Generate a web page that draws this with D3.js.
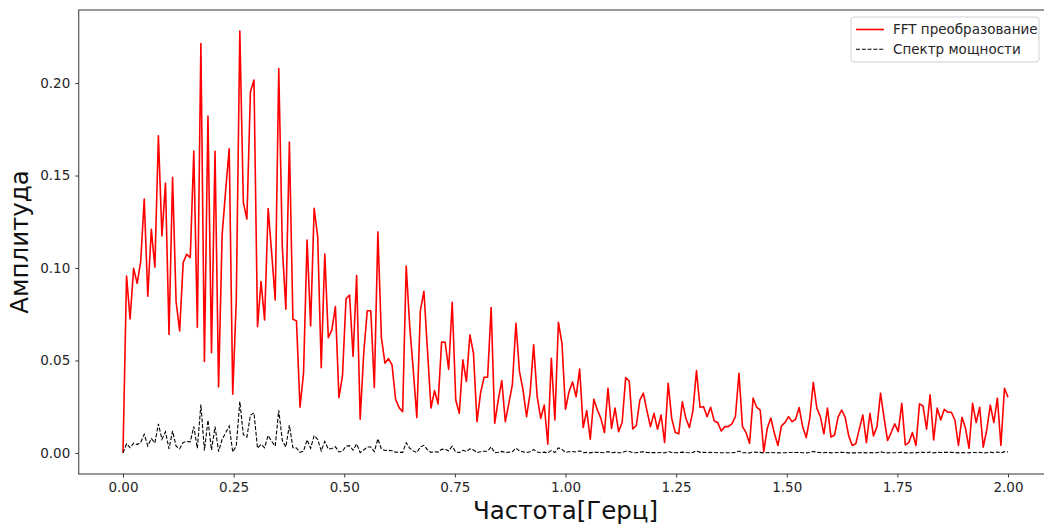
<!DOCTYPE html>
<html><head><meta charset="utf-8">
<script src="https://cdn.jsdelivr.net/npm/d3@7"></script>
<style>body{margin:0;background:#fff}svg{display:block}text{font-family:"DejaVu Sans",sans-serif}</style>
</head><body><svg id="c" width="1044" height="524"></svg>
<script>
// frequency sampling (Hz): 251 bins from 0 to 2.0
const freqStep = 0.008;
const nBins = 251;
// FFT amplitude (red)
const fftAmp = [
0.000,0.0957,0.0724,0.0998,0.0917,0.1034,0.1373,0.0847,0.1209,0.1004,
0.1715,0.1173,0.1459,0.0641,0.149,0.0818,0.066,0.1029,0.1074,0.1056,
0.1632,0.0679,0.2214,0.0494,0.1822,0.0542,0.1631,0.0357,0.1178,0.142,
0.1645,0.0317,0.0827,0.2281,0.1353,0.1265,0.1953,0.2016,0.0683,0.0926,
0.0719,0.1322,0.108,0.0827,0.2079,0.1115,0.0777,0.1681,0.0723,0.0714,
0.0247,0.0431,0.1151,0.0686,0.1323,0.1169,0.0461,0.1076,0.0623,0.0665,
0.0791,0.0299,0.0416,0.0832,0.0854,0.0521,0.0959,0.0182,0.0539,0.0769,
0.0769,0.0353,0.1195,0.0623,0.0485,0.051,0.0476,0.029,0.0245,0.0223,
0.1011,0.0683,0.0449,0.0191,0.0769,0.0874,0.0557,0.0243,0.0337,0.0265,
0.06,0.0598,0.0452,0.0815,0.0286,0.0214,0.0503,0.0386,0.0638,0.0539,
0.0169,0.0323,0.0409,0.041,0.0786,0.016,0.0286,0.0391,0.0169,0.0268,
0.0371,0.0701,0.044,0.0341,0.0196,0.0323,0.0584,0.0304,0.0187,0.0259,
0.0047,0.0512,0.0178,0.0706,0.0593,0.0236,0.0331,0.0384,0.0304,0.0454,
0.0137,0.0229,0.0074,0.029,0.0232,0.0187,0.011,0.035,0.0133,0.0242,
0.0115,0.0164,0.0407,0.0389,0.013,0.0148,0.0286,0.0323,0.0229,0.0142,
0.0214,0.0128,0.0205,0.0056,0.0377,0.0187,0.011,0.0103,0.0277,0.0187,
0.0137,0.0229,0.0445,0.0247,0.025,0.0196,0.0247,0.0173,0.0164,0.0119,
0.0142,0.0142,0.0157,0.0196,0.0431,0.0142,0.011,0.0052,0.0296,0.0247,
0.0232,0.0007,0.0133,0.0189,0.0106,0.004,0.0146,0.0164,0.0196,0.0169,
0.0182,0.0245,0.0142,0.0083,0.0187,0.0382,0.0242,0.0196,0.0103,0.0242,
0.0085,0.0097,0.0193,0.0232,0.0193,0.0092,0.004,0.0049,0.013,0.0205,
0.0056,0.0214,0.0092,0.0142,0.0323,0.0187,0.0067,0.011,0.0157,0.0115,
0.0268,0.0043,0.0056,0.011,0.004,0.0265,0.0254,0.0128,0.0314,0.007,
0.0242,0.0178,0.0236,0.022,0.022,0.0178,0.004,0.0193,0.0133,0.0025,
0.0268,0.0164,0.0247,0.0031,0.0124,0.0259,0.0164,0.0296,0.004,0.035,
0.0301];
// power spectrum (black dashed)
const powerSpec = [
0,0.0049,0.0028,0.0053,0.0045,0.0057,0.0101,0.0038,0.0078,0.0054,
0.0157,0.0074,0.0114,0.0022,0.0119,0.0036,0.0023,0.0057,0.0062,0.006,
0.0142,0.0025,0.0262,0.0013,0.0178,0.0016,0.0142,0.0007,0.0074,0.0108,
0.0145,0.0005,0.0037,0.0278,0.0098,0.0086,0.0204,0.0217,0.0025,0.0046,
0.0028,0.0094,0.0062,0.0037,0.0231,0.0067,0.0032,0.0151,0.0028,0.0027,
0.0003,0.001,0.0071,0.0025,0.0094,0.0073,0.0011,0.0062,0.0021,0.0024,
0.0033,0.0005,0.0009,0.0037,0.0039,0.0015,0.0049,0.0002,0.0016,0.0032,
0.0032,0.0007,0.0076,0.0021,0.0013,0.0014,0.0012,0.0004,0.0003,0.0003,
0.0055,0.0025,0.0011,0.0002,0.0032,0.0041,0.0017,0.0003,0.0006,0.0004,
0.0019,0.0019,0.0011,0.0036,0.0004,0.0002,0.0014,0.0008,0.0022,0.0016,
0.0002,0.0006,0.0009,0.0009,0.0033,0.0001,0.0004,0.0008,0.0002,0.0004,
0.0007,0.0026,0.001,0.0006,0.0002,0.0006,0.0018,0.0005,0.0002,0.0004,
0,0.0014,0.0002,0.0027,0.0019,0.0003,0.0006,0.0008,0.0005,0.0011,
0.0001,0.0003,0,0.0004,0.0003,0.0002,0.0001,0.0007,0.0001,0.0003,
0.0001,0.0001,0.0009,0.0008,0.0001,0.0001,0.0004,0.0006,0.0003,0.0001,
0.0002,0.0001,0.0002,0,0.0008,0.0002,0.0001,0.0001,0.0004,0.0002,
0.0001,0.0003,0.0011,0.0003,0.0003,0.0002,0.0003,0.0002,0.0001,0.0001,
0.0001,0.0001,0.0001,0.0002,0.001,0.0001,0.0001,0,0.0005,0.0003,
0.0003,0,0.0001,0.0002,0.0001,0,0.0001,0.0001,0.0002,0.0002,
0.0002,0.0003,0.0001,0,0.0002,0.0008,0.0003,0.0002,0.0001,0.0003,
0,0.0001,0.0002,0.0003,0.0002,0,0,0,0.0001,0.0002,
0,0.0002,0,0.0001,0.0006,0.0002,0,0.0001,0.0001,0.0001,
0.0004,0,0,0.0001,0,0.0004,0.0003,0.0001,0.0005,0,
0.0003,0.0002,0.0003,0.0003,0.0003,0.0002,0,0.0002,0.0001,0,
0.0004,0.0001,0.0003,0,0.0001,0.0004,0.0001,0.0005,0,0.0007,
0.0005];
const xTicks = [0,0.25,0.5,0.75,1.0,1.25,1.5,1.75,2.0];
const yTicks = [0,0.05,0.10,0.15,0.20];
const seriesNames = ["FFT преобразование","Спектр мощности"];
const xTitle = "Частота[Герц]";
const yTitle = "Амплитуда";

const freqs = d3.range(nBins).map(i => +(i*freqStep).toFixed(3));

const svg = d3.select("#c");
const L = 78.75, R = 1052.25, T = 10, B = 474;
const x = d3.scaleLinear().domain([-0.1, 2.1]).range([L, R]);
const ymax = d3.max(fftAmp);
const y = d3.scaleLinear().domain([-0.05*ymax, 1.05*ymax]).range([B, T]);

svg.append("defs").append("clipPath").attr("id","clip")
  .append("rect").attr("x",L).attr("y",T).attr("width",R-L).attr("height",B-T);

const line = d3.line().x((d,i)=>x(freqs[i])).y(d=>y(d));
const g = svg.append("g").attr("clip-path","url(#clip)");
g.append("path").datum(fftAmp).attr("d",line).attr("fill","none")
  .attr("stroke","#ff0000").attr("stroke-width",1.6).attr("stroke-linejoin","round");
g.append("path").datum(powerSpec).attr("d",line).attr("fill","none")
  .attr("stroke","#000").attr("stroke-width",1.1).attr("stroke-dasharray","4,1.8");

// axes
const xa = svg.append("g").attr("transform",`translate(0,${B})`)
  .call(d3.axisBottom(x).tickValues(xTicks).tickFormat(d3.format(".2f")).tickSize(3.5).tickPadding(5));
const ya = svg.append("g").attr("transform",`translate(${L},0)`)
  .call(d3.axisLeft(y).tickValues(yTicks).tickFormat(d3.format(".2f")).tickSize(3.5).tickPadding(5));
[xa,ya].forEach(a=>{
  a.select(".domain").remove();
  a.selectAll(".tick line").attr("stroke","#222").attr("stroke-width",0.9);
  a.selectAll(".tick text").attr("font-size",13.5).attr("fill","#262626").attr("font-family","DejaVu Sans");
});
// frame
svg.append("rect").attr("x",L).attr("y",T).attr("width",R-L).attr("height",B-T)
  .attr("fill","none").attr("stroke","#333").attr("stroke-width",1);

svg.append("text").attr("x",(L+R)/2).attr("y",519).attr("text-anchor","middle")
  .attr("font-size",24.5).attr("fill","#111").text(xTitle);
svg.append("text").attr("transform",`translate(28,${(T+B)/2}) rotate(-90)`)
  .attr("text-anchor","middle").attr("font-size",24.5).attr("fill","#111").text(yTitle);

// legend
const lg = svg.append("g");
lg.append("rect").attr("x",851).attr("y",17).attr("width",188).attr("height",45).attr("rx",3)
  .attr("fill","#fff").attr("fill-opacity",0.8).attr("stroke","#d0d0d0").attr("stroke-width",1);
const styles = [{c:"#ff0000",w:1.6,d:null},{c:"#000",w:1.1,d:"4,1.8"}];
seriesNames.forEach((n,i)=>{
  const yy = 29.5 + i*19.8;
  const l = lg.append("line").attr("x1",856).attr("x2",884).attr("y1",yy).attr("y2",yy)
    .attr("stroke",styles[i].c).attr("stroke-width",styles[i].w);
  if(styles[i].d) l.attr("stroke-dasharray",styles[i].d);
  lg.append("text").attr("x",893).attr("y",yy+4.8).attr("font-size",13.5).attr("fill","#262626").text(n);
});
</script></body></html>
